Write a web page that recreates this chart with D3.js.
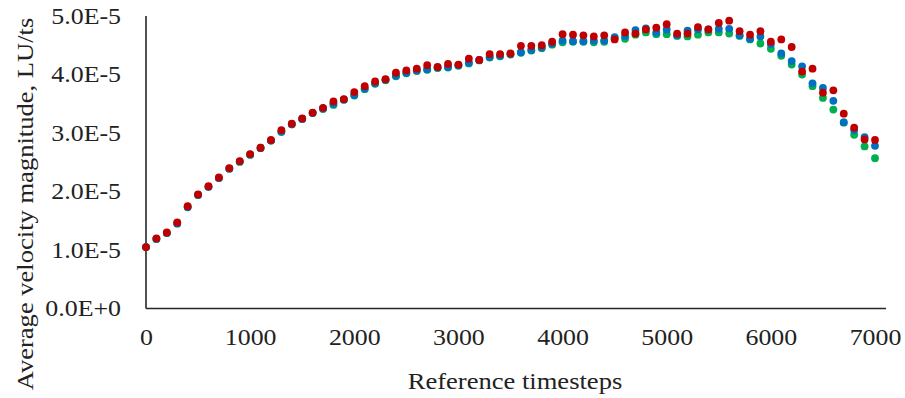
<!DOCTYPE html>
<html>
<head>
<meta charset="utf-8">
<script src="https://cdn.jsdelivr.net/npm/d3@7"></script>
<style>
  html, body { margin: 0; padding: 0; background: #fff; }
  svg { display: block; }
  .axis text { font-family: "Liberation Serif", "Times New Roman", serif; font-size: 22.5px; fill: #222; }
  .title { font-family: "Liberation Serif", "Times New Roman", serif; font-size: 22.5px; fill: #222; }
</style>
</head>
<body>
<svg id="chart" width="905" height="398"></svg>
<script>
// values are in units of 1e-5 LU/ts
const UNIT = 1e-5;
const timesteps = d3.range(0, 7001, 100);
const xTicks = [0, 1000, 2000, 3000, 4000, 5000, 6000, 7000];
const yTicks = [0, 1e-5, 2e-5, 3e-5, 4e-5, 5e-5];

const greenSeries = [
  1.05, 1.19, 1.29, 1.46, 1.74, 1.94, 2.08, 2.23, 2.39, 2.51,
  2.63, 2.75, 2.87, 3.02, 3.15, 3.24, 3.34, 3.41, 3.48, 3.57,
  3.64, 3.75, 3.84, 3.90, 3.97, 4.02, 4.06, 4.08, 4.11, 4.12,
  4.15, 4.19, 4.24, 4.29, 4.31, 4.34, 4.37, 4.41, 4.45, 4.51,
  4.55, 4.56, 4.56, 4.55, 4.56, 4.62, 4.61, 4.68, 4.72, 4.69,
  4.69, 4.66, 4.65, 4.68, 4.72, 4.72, 4.70, 4.66, 4.60, 4.53,
  4.44, 4.32, 4.17, 4.00, 3.80, 3.60, 3.40, 3.18, 2.97, 2.77,
  2.57
];
const blueSeries = [
  1.05, 1.19, 1.29, 1.45, 1.73, 1.94, 2.08, 2.23, 2.39, 2.51,
  2.63, 2.74, 2.87, 3.02, 3.15, 3.24, 3.34, 3.42, 3.50, 3.57,
  3.65, 3.76, 3.85, 3.91, 3.98, 4.03, 4.07, 4.09, 4.12, 4.13,
  4.16, 4.20, 4.25, 4.30, 4.32, 4.35, 4.38, 4.42, 4.46, 4.53,
  4.58, 4.57, 4.57, 4.58, 4.58, 4.64, 4.66, 4.76, 4.79, 4.72,
  4.77, 4.67, 4.75, 4.77, 4.77, 4.78, 4.78, 4.67, 4.61, 4.65,
  4.52, 4.36, 4.23, 4.14, 3.85, 3.77, 3.55, 3.18, 3.05, 2.93,
  2.78
];
const redSeries = [
  1.05, 1.20, 1.30, 1.47, 1.75, 1.95, 2.09, 2.24, 2.40, 2.52,
  2.64, 2.75, 2.88, 3.05, 3.16, 3.25, 3.35, 3.43, 3.54, 3.58,
  3.70, 3.80, 3.88, 3.92, 4.03, 4.07, 4.10, 4.16, 4.13, 4.18,
  4.17, 4.27, 4.25, 4.35, 4.35, 4.36, 4.49, 4.49, 4.50, 4.56,
  4.69, 4.68, 4.67, 4.65, 4.67, 4.60, 4.72, 4.70, 4.77, 4.80,
  4.86, 4.70, 4.70, 4.81, 4.77, 4.88, 4.92, 4.74, 4.68, 4.74,
  4.56, 4.60, 4.47, 4.05, 4.10, 3.69, 3.73, 3.33, 3.09, 2.89,
  2.88
];

const series = [
  { name: 'green', color: '#00B050', values: greenSeries },
  { name: 'blue', color: '#0070C0', values: blueSeries },
  { name: 'red', color: '#C00000', values: redSeries }
];

const svg = d3.select('#chart');

const x = d3.scaleLinear().domain([0, 7000]).range([146, 875]);
const y = d3.scaleLinear().domain([0, 5e-5]).range([308.5, 16]);

const fmtY = d => d === 0 ? '0.0E+0' : (d / UNIT).toFixed(1) + 'E-5';

// the reference font runs wider than Liberation Serif at the same height
function widen(sel, k) {
  sel.each(function() {
    const w = this.getComputedTextLength();
    d3.select(this).attr('textLength', w * k).attr('lengthAdjust', 'spacingAndGlyphs');
  });
}

// x axis
const gx = svg.append('g')
  .attr('class', 'axis')
  .attr('transform', 'translate(0,' + y(0) + ')')
  .call(d3.axisBottom(x).tickValues(xTicks).tickSize(0).tickPadding(21).tickFormat(d3.format('d')));
gx.select('.domain').remove();
widen(gx.selectAll('text'), 1.15);

// y axis
const gy = svg.append('g')
  .attr('class', 'axis')
  .attr('transform', 'translate(' + x(0) + ',0)')
  .call(d3.axisLeft(y).tickValues(yTicks).tickSize(0).tickPadding(25).tickFormat(fmtY));
gy.select('.domain').remove();
widen(gy.selectAll('text'), 1.15);

// axis lines
svg.append('line')
  .attr('x1', x(0)).attr('x2', x(7000) + 11)
  .attr('y1', y(0)).attr('y2', y(0))
  .attr('stroke', '#262626').attr('stroke-width', 1.6);
svg.append('line')
  .attr('x1', x(0)).attr('x2', x(0))
  .attr('y1', y(0)).attr('y2', y(5e-5))
  .attr('stroke', '#262626').attr('stroke-width', 1.6);

// markers
series.forEach(s => {
  svg.append('g')
    .selectAll('circle')
    .data(s.values)
    .enter()
    .append('circle')
    .attr('cx', (d, i) => x(timesteps[i]))
    .attr('cy', d => y(d * UNIT))
    .attr('r', 3.9)
    .attr('fill', s.color);
});

// titles
svg.append('text')
  .attr('class', 'title')
  .attr('x', 515).attr('y', 389)
  .attr('text-anchor', 'middle')
  .text('Reference timesteps')
  .call(widen, 1.18);

svg.append('text')
  .attr('class', 'title')
  .attr('transform', 'translate(33,204) rotate(-90)')
  .attr('text-anchor', 'middle')
  .text('Average velocity magnitude, LU/ts')
  .call(widen, 1.18);
</script>
</body>
</html>
